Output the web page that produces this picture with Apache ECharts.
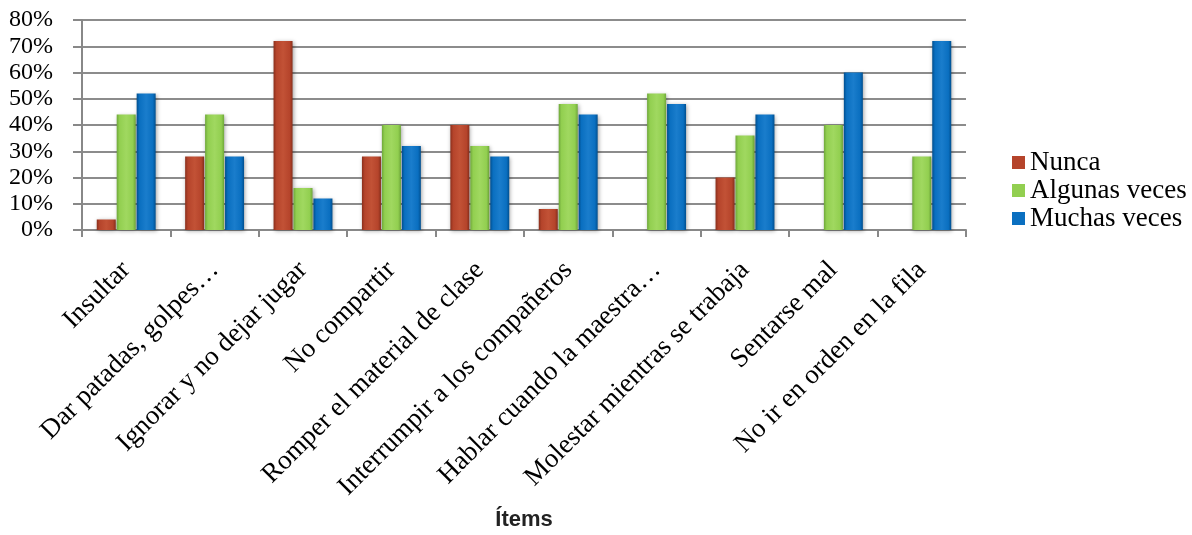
<!DOCTYPE html>
<html>
<head>
<meta charset="utf-8">
<script src="https://cdn.jsdelivr.net/npm/echarts@6/dist/echarts.min.js"></script>
<style>
html,body{margin:0;padding:0;background:#fff;}
#chart{width:1192px;height:535px;}
</style>
</head>
<body>
<div id="chart"></div>
<script>
const categories = ["Insultar","Dar patadas, golpes…","Ignorar y no dejar jugar","No compartir","Romper el material de clase","Interrumpir a los compañeros","Hablar cuando la maestra…","Molestar mientras se trabaja","Sentarse mal","No ir en orden en la fila"];
const nunca = [0.04,0.28,0.72,0.28,0.40,0.08,0,0.20,0,0];
const algunas = [0.44,0.44,0.16,0.40,0.32,0.48,0.52,0.36,0.40,0.28];
const muchas = [0.52,0.28,0.12,0.32,0.28,0.44,0.48,0.44,0.60,0.72];
const seriesNames = ["Nunca","Algunas veces","Muchas veces"];
const yTicks = [0,0.1,0.2,0.3,0.4,0.5,0.6,0.7,0.8];

function grad(dark, mid, light){
  return new echarts.graphic.LinearGradient(0,0,1,0,[
    {offset:0,color:dark},{offset:0.15,color:mid},{offset:0.5,color:light},{offset:0.85,color:mid},{offset:1,color:dark}
  ]);
}
const colors = [
  grad('#8a2f1c','#b5442b','#c25236'),
  grad('#6fa83a','#92cf50','#a0d860'),
  grad('#004f8f','#0a6fc0','#1a7dcc')
];
const solid = ['#b5442b','#92cf50','#0a6fc0'];
const serif = 'Liberation Serif';
const chart = echarts.init(document.getElementById('chart'));
const mk = (name, data, i) => ({
  name, type:'bar', data, barWidth:19, barGap:'5%',
  itemStyle:{color:colors[i], shadowColor:'rgba(0,0,0,0.35)', shadowBlur:4, shadowOffsetX:1, shadowOffsetY:1}
});
chart.setOption({
  animation:false,
  color: solid,
  grid:{left:82,right:226,top:20,bottom:305,containLabel:false},
  legend:{
    orient:'vertical', left:1007, top:144, itemWidth:13, itemHeight:13, itemGap:1, icon:'rect',
    textStyle:{fontFamily:serif,fontSize:27,color:'#000'},
    data:seriesNames.map((n,i)=>({name:n,itemStyle:{color:solid[i]}}))
  },
  xAxis:{
    type:'category', data:categories,
    name:'Ítems', nameLocation:'middle', nameGap:279, nameMoveOverlap:false,
    nameTextStyle:{fontFamily:'Liberation Sans',fontWeight:'bold',fontSize:22,color:'#222'},
    axisLine:{lineStyle:{color:'#888',width:2}},
    axisTick:{show:true,length:7,lineStyle:{color:'#888',width:2}},
    axisLabel:{rotate:45,margin:36,fontFamily:serif,fontSize:27,color:'#000',interval:0}
  },
  yAxis:{
    type:'value', min:0, max:0.8, interval:0.1,
    axisLine:{show:true,lineStyle:{color:'#888',width:2}},
    axisTick:{show:true,length:9,lineStyle:{color:'#888',width:2}},
    splitLine:{lineStyle:{color:'#8c8c8c',width:2}},
    axisLabel:{fontFamily:serif,fontSize:24,color:'#000',margin:29,
      formatter:v=>Math.round(v*100)+'%'}
  },
  series:[mk(seriesNames[0],nunca,0),mk(seriesNames[1],algunas,1),mk(seriesNames[2],muchas,2)]
});
</script>
</body>
</html>
